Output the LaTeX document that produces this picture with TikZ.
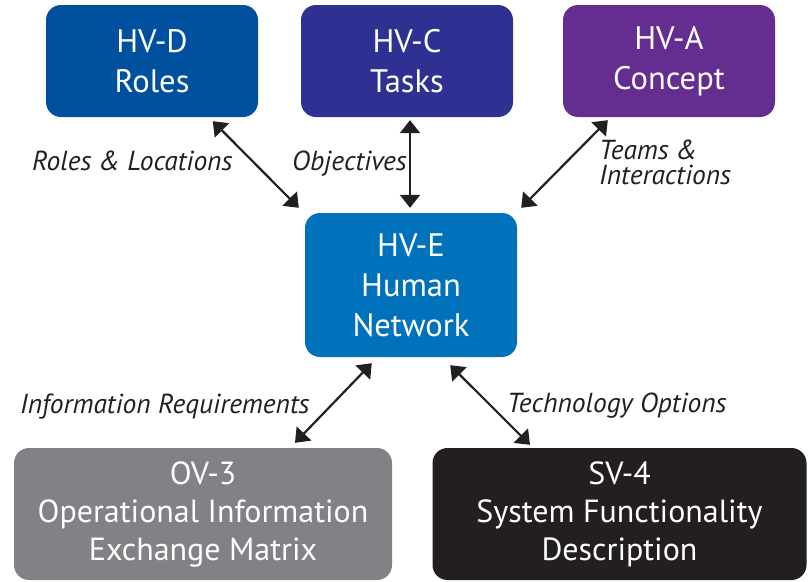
\documentclass[tikz,border=0pt]{standalone}
\usepackage{fontspec}
\setmainfont{PT Sans}
\usetikzlibrary{arrows.meta,calc}

\definecolor{hvdblue}{HTML}{0050A0}
\definecolor{hvcindigo}{HTML}{2E3192}
\definecolor{hvapurple}{HTML}{662D91}
\definecolor{hveblue}{HTML}{0072BC}
\definecolor{ovgrey}{HTML}{808285}
\definecolor{svblack}{HTML}{231F20}

\begin{document}
\begin{tikzpicture}[x=1pt,y=-1pt,
  viewbox/.style={rounded corners=15pt, minimum width=212pt, minimum height=112pt,
    inner sep=0pt, text=white, align=center, font=\fontsize{32.5}{40}\selectfont},
  lowbox/.style={viewbox, minimum height=132pt, font=\fontsize{32}{38}\selectfont},
  link/.style={line width=2.2pt, draw=svblack,
    {Triangle[length=13pt,width=20pt]}-{Triangle[length=13pt,width=20pt]}},
  tag/.style={font=\itshape\fontsize{27.5}{25}\selectfont, inner sep=0pt,
    anchor=base west, text=svblack, align=left}]

\useasboundingbox (0,0) rectangle (811,581);

% views
\node[viewbox, fill=hvdblue]   (hvd) at (152,61)  {HV-D\\Roles};
\node[viewbox, fill=hvcindigo] (hvc) at (407,61)  {HV-C\\Tasks};
\node[viewbox, fill=hvapurple] (hva) at (669,61)  {HV-A\\Concept};
\node[viewbox, fill=hveblue, minimum height=144pt] (hve) at (411,285) {HV-E\\Human\\Network};
\node[lowbox, fill=ovgrey, minimum width=378pt]  (ov3) at (203,514)
  {OV-3\\Operational Information\\Exchange Matrix};
\node[lowbox, fill=svblack, minimum width=374pt] (sv4) at (619.5,514)
  {SV-4\\System Functionality\\Description};

% relations
\draw[link] ($(hvd.south west)+(167,4)$) -- ($(hve.north west)+(-6,-5)$);
\draw[link] ($(hvc.south)+(3,3)$)        -- ($(hve.north)+(-1,-5)$);
\draw[link] ($(hva.south west)+(45,3)$)  -- ($(hve.north east)+(4,-5)$);
\draw[link] ($(hve.south west)+(67,6)$)  -- ($(ov3.north)+(92,-5)$);
\draw[link] ($(hve.south east)+(-67,8)$) -- ($(sv4.north)+(-89.5,-3)$);

% relation labels
\node[tag] (lroles) at (32,170)  {Roles \& Locations};
\node[tag] (lobj)   at (292,170) {Objectives};
\node[tag] (lteams) at (599,184) {Teams \&\\Interactions};
\node[tag] (linfo)  at (20,413)  {Information Requirements};
\node[tag] (ltech)  at (507,412) {Technology Options};
\end{tikzpicture}
\end{document}
